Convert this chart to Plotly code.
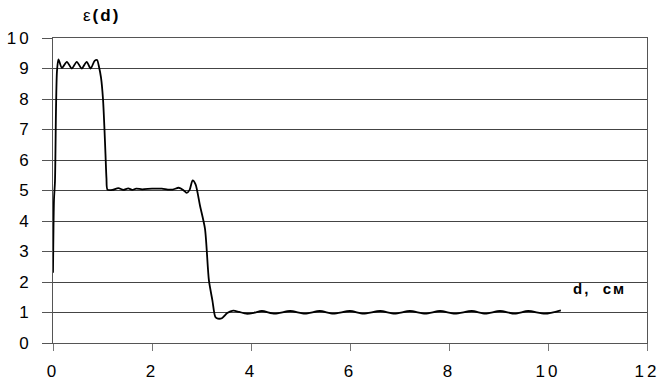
import plotly.graph_objects as go

# Data
d_cm = [0.00, 0.02, 0.04, 0.06, 0.08, 0.11, 0.18, 0.28, 0.38, 0.48, 0.58, 0.68, 0.76, 0.84, 0.89,
        0.93, 0.97, 1.01, 1.04, 1.06, 1.08, 1.10, 1.20, 1.32, 1.42, 1.52, 1.60, 1.68, 1.80, 2.00,
        2.20, 2.32, 2.42, 2.54, 2.63, 2.70, 2.76, 2.82, 2.88, 2.97, 3.07, 3.15, 3.22, 3.28, 3.33,
        3.42, 3.52, 3.64, 3.76, 3.91, 4.06, 4.22, 4.48, 4.79, 5.09, 5.39, 5.66, 6.00, 6.27, 6.61,
        6.90, 7.21, 7.52, 7.82, 8.12, 8.46, 8.73, 9.03, 9.33, 9.60, 9.94, 10.26]
eps = [2.30, 4.70, 5.30, 7.60, 8.90, 9.30, 9.02, 9.22, 9.00, 9.22, 9.00, 9.22, 9.00, 9.25, 9.28,
       9.05, 8.70, 8.00, 7.00, 6.20, 5.40, 5.03, 5.02, 5.08, 5.02, 5.07, 5.02, 5.06, 5.04, 5.06,
       5.06, 5.03, 5.03, 5.09, 5.02, 4.92, 5.02, 5.33, 5.20, 4.50, 3.75, 2.05, 1.40, 0.85, 0.80,
       0.82, 0.98, 1.06, 1.02, 0.96, 0.99, 1.05, 0.96, 1.05, 0.96, 1.05, 0.96, 1.05, 0.96, 1.05,
       0.96, 1.05, 0.96, 1.05, 0.96, 1.05, 0.96, 1.05, 0.96, 1.05, 0.96, 1.07]

x_ticks = [0, 2, 4, 6, 8, 10, 12]
y_ticks = [0, 1, 2, 3, 4, 5, 6, 7, 8, 9, 10]
y_title = "ε(d)"
x_title = "d, см"

FONT = "Liberation Sans, Arial, sans-serif"


def spaced(s, px=3):
    return f"<span style='letter-spacing:{px}px'>{s}</span>"


fig = go.Figure()
fig.add_trace(go.Scatter(
    x=d_cm, y=eps, mode="lines",
    line=dict(color="black", width=1.8, shape="spline", smoothing=0.7),
    hoverinfo="skip", showlegend=False,
))

fig.update_layout(
    width=660, height=381,
    margin=dict(l=53, r=13, t=38, b=38),
    paper_bgcolor="white", plot_bgcolor="white",
    font=dict(family=FONT, size=17, color="black"),
    xaxis=dict(
        range=[0, 12], tickvals=x_ticks, ticktext=[spaced(str(v)) for v in x_ticks],
        showgrid=False, zeroline=False, automargin=False,
        showline=True, linecolor="#555", linewidth=1, mirror=True,
        ticks="outside", ticklen=7, tickcolor="#777", tickwidth=1,
        ticklabelstandoff=6,
        tickfont=dict(family=FONT, size=17, color="black"),
    ),
    yaxis=dict(
        range=[0, 10], tickvals=y_ticks, ticktext=[spaced(str(v)) for v in y_ticks],
        showgrid=True, gridcolor="#444", gridwidth=1, zeroline=False, automargin=False,
        showline=True, linecolor="#555", linewidth=1, mirror=True,
        ticks="outside", ticklen=10, tickcolor="#555", tickwidth=1,
        ticklabelstandoff=7,
        tickfont=dict(family=FONT, size=17, color="black"),
    ),
    annotations=[
        dict(x=(101 - 53) / 594, y=(343.3 - 15.5) / 305.3, xref="paper", yref="paper",
             text=spaced(y_title[0] + "<b>" + y_title[1:] + "</b>", 2), showarrow=False,
             xanchor="center", yanchor="middle",
             font=dict(family=FONT, size=17, color="black")),
        dict(x=11.05, y=1.8, xref="x", yref="y", text=spaced("<b>d,  см</b>", 2),
             showarrow=False, xanchor="center", yanchor="middle",
             font=dict(family=FONT, size=15, color="black")),
    ],
)

fig.write_html("out.html")
